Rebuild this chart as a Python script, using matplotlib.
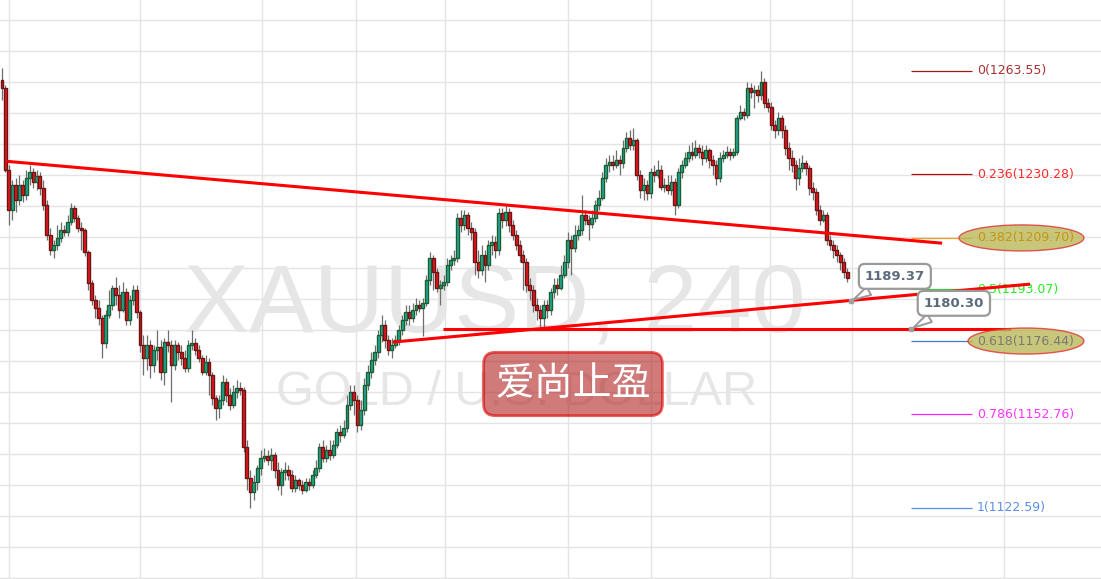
import numpy as np
import matplotlib.pyplot as plt
from matplotlib.patches import Ellipse

W, H = 1101, 579

# XAUUSD 4h candles
opens = [
    1260.6, 1258.1, 1231.6, 1218.7, 1226.8, 1221.9, 1226.8, 1223.5, 1229.0, 1231.0,
    1227.7, 1229.7, 1225.8, 1220.3, 1210.6, 1205.8, 1207.4, 1209.7, 1212.3, 1211.6,
    1214.8, 1219.4, 1216.1, 1212.9, 1212.3, 1205.2, 1195.2, 1189.7, 1187.1, 1183.9,
    1175.8, 1184.8, 1188.1, 1193.5, 1191.3, 1186.5, 1192.3, 1183.2, 1189.7, 1192.9,
    1185.8, 1175.2, 1171.0, 1175.2, 1168.7, 1173.5, 1174.5, 1166.5, 1176.1, 1175.2,
    1168.7, 1175.2, 1172.9, 1171.0, 1167.7, 1175.2, 1175.8, 1173.5, 1171.0, 1166.5,
    1169.7, 1165.5, 1158.1, 1154.8, 1157.4, 1163.2, 1159.0, 1155.8, 1160.0, 1161.3,
    1160.6, 1142.3, 1132.3, 1127.7, 1131.0, 1135.5, 1138.7, 1139.4, 1138.1, 1139.7,
    1134.8, 1130.0, 1134.2, 1134.8, 1133.2, 1129.0, 1131.6, 1130.0, 1128.4, 1131.0,
    1130.0, 1133.2, 1135.5, 1142.3, 1138.7, 1141.3, 1139.7, 1142.9, 1147.1, 1146.1,
    1148.4, 1155.8, 1160.0, 1157.4, 1149.4, 1154.2, 1162.3, 1166.5, 1170.3, 1172.9,
    1178.4, 1181.6, 1176.8, 1173.5, 1175.2, 1176.8, 1180.0, 1183.2, 1185.8, 1183.9,
    1186.5, 1188.1, 1187.1, 1188.7, 1196.1, 1203.2, 1198.7, 1193.5, 1194.5, 1195.5,
    1201.0, 1202.6, 1203.2, 1216.1, 1213.9, 1217.1, 1212.9, 1211.6, 1201.9, 1199.4,
    1204.2, 1201.0, 1207.4, 1208.4, 1205.8, 1217.7, 1215.5, 1218.1, 1213.9, 1210.6,
    1207.4, 1204.2, 1201.9, 1194.5, 1192.9, 1188.1, 1186.5, 1183.9, 1188.1, 1186.5,
    1192.3, 1194.5, 1193.5, 1197.7, 1201.9, 1209.0, 1206.5, 1210.6, 1212.3, 1217.1,
    1215.5, 1214.2, 1216.1, 1220.3, 1222.6, 1229.0, 1233.2, 1234.2, 1233.2, 1234.8,
    1233.9, 1238.7, 1241.9, 1239.7, 1241.3, 1230.0, 1225.2, 1226.8, 1224.2, 1231.0,
    1230.0, 1231.6, 1226.1, 1226.8, 1225.2, 1227.7, 1220.3, 1231.0, 1233.2, 1235.5,
    1237.4, 1236.5, 1238.7, 1237.4, 1235.5, 1238.1, 1234.8, 1233.2, 1229.0, 1235.5,
    1236.5, 1237.4, 1236.5, 1237.4, 1248.4, 1250.3, 1249.4, 1258.1, 1256.8, 1257.4,
    1255.8, 1260.0, 1253.2, 1251.9, 1246.1, 1244.5, 1248.4, 1244.5, 1238.7, 1235.5,
    1233.2, 1229.0, 1232.3, 1233.9, 1232.3, 1225.8, 1224.5, 1218.7, 1215.5, 1217.1,
    1209.0, 1207.4, 1205.8, 1204.2, 1201.9, 1198.7,
]
highs = [
    1264.5, 1259.0, 1233.2, 1228.4, 1229.0, 1230.0, 1228.4, 1231.6, 1233.2, 1232.3,
    1231.6, 1231.0, 1228.4, 1221.9, 1212.9, 1209.0, 1213.9, 1214.8, 1213.9, 1217.1,
    1221.0, 1220.3, 1217.1, 1214.8, 1212.9, 1205.8, 1196.1, 1191.3, 1189.7, 1184.8,
    1186.5, 1192.9, 1194.5, 1197.1, 1194.5, 1195.5, 1193.5, 1191.3, 1194.5, 1194.5,
    1186.5, 1178.4, 1178.4, 1176.8, 1175.2, 1180.0, 1176.8, 1177.4, 1180.0, 1176.8,
    1176.8, 1176.1, 1175.2, 1173.5, 1176.8, 1180.0, 1177.4, 1175.2, 1171.9, 1171.9,
    1171.0, 1166.5, 1159.0, 1159.0, 1165.5, 1164.5, 1161.3, 1162.3, 1163.9, 1163.2,
    1161.6, 1144.5, 1134.8, 1133.2, 1136.5, 1141.3, 1141.9, 1141.3, 1141.9, 1140.6,
    1137.4, 1135.5, 1137.4, 1136.5, 1134.8, 1133.2, 1132.3, 1131.6, 1132.3, 1132.3,
    1134.8, 1138.1, 1143.5, 1144.5, 1142.9, 1144.5, 1144.5, 1148.4, 1149.4, 1151.0,
    1159.0, 1162.3, 1162.3, 1159.0, 1157.4, 1164.5, 1168.7, 1172.9, 1175.2, 1180.0,
    1184.8, 1183.2, 1178.4, 1177.4, 1178.4, 1181.6, 1184.8, 1188.1, 1188.1, 1188.7,
    1190.3, 1189.7, 1190.3, 1197.7, 1205.2, 1204.2, 1200.0, 1196.1, 1197.7, 1203.2,
    1204.2, 1205.8, 1217.7, 1218.7, 1218.7, 1218.1, 1214.8, 1212.9, 1205.8, 1207.4,
    1205.8, 1209.0, 1210.6, 1210.3, 1219.4, 1219.4, 1220.0, 1219.4, 1215.5, 1212.3,
    1209.0, 1205.8, 1203.2, 1196.8, 1194.5, 1190.3, 1188.1, 1189.7, 1189.7, 1193.5,
    1196.8, 1196.8, 1201.0, 1204.2, 1211.6, 1210.6, 1213.9, 1213.9, 1223.5, 1218.7,
    1217.1, 1218.7, 1221.9, 1225.2, 1231.0, 1235.5, 1236.5, 1236.5, 1238.1, 1236.5,
    1241.3, 1243.9, 1244.5, 1245.2, 1241.9, 1231.6, 1229.0, 1228.4, 1232.3, 1233.2,
    1234.8, 1233.2, 1229.0, 1230.0, 1230.0, 1229.0, 1232.3, 1234.8, 1237.4, 1239.7,
    1240.6, 1241.3, 1240.0, 1239.7, 1239.7, 1238.7, 1236.5, 1234.8, 1237.4, 1238.1,
    1239.4, 1238.7, 1238.7, 1249.4, 1252.6, 1251.6, 1260.0, 1259.7, 1259.0, 1259.0,
    1263.55, 1261.3, 1254.8, 1253.5, 1247.7, 1250.3, 1249.4, 1246.1, 1240.6, 1238.1,
    1234.8, 1235.5, 1236.5, 1234.8, 1233.2, 1227.7, 1225.8, 1220.3, 1218.7, 1218.1,
    1210.6, 1209.0, 1207.4, 1205.2, 1203.2, 1200.0,
]
lows = [
    1254.2, 1231.0, 1213.9, 1215.5, 1218.1, 1220.3, 1221.3, 1221.9, 1226.8, 1225.8,
    1225.2, 1223.5, 1218.7, 1209.0, 1204.2, 1203.2, 1205.8, 1208.4, 1210.3, 1210.3,
    1213.9, 1214.8, 1211.6, 1205.8, 1203.9, 1192.9, 1188.1, 1183.9, 1181.6, 1171.0,
    1174.2, 1183.9, 1186.5, 1188.1, 1183.9, 1185.8, 1181.6, 1181.6, 1188.1, 1183.9,
    1172.9, 1165.5, 1167.1, 1164.5, 1166.5, 1170.3, 1163.9, 1162.3, 1172.9, 1156.8,
    1167.1, 1170.3, 1168.7, 1166.5, 1166.5, 1173.5, 1171.9, 1169.7, 1165.5, 1165.5,
    1159.0, 1155.8, 1151.0, 1151.6, 1155.8, 1156.8, 1154.2, 1154.8, 1158.1, 1159.0,
    1140.6, 1128.4, 1122.59, 1125.2, 1128.4, 1133.2, 1137.4, 1136.5, 1134.8, 1132.3,
    1128.4, 1126.8, 1131.6, 1131.6, 1127.7, 1127.7, 1128.4, 1127.1, 1127.7, 1128.4,
    1129.0, 1132.3, 1134.2, 1137.4, 1137.4, 1138.1, 1138.7, 1141.9, 1143.9, 1145.2,
    1147.1, 1154.2, 1152.6, 1147.1, 1147.7, 1152.6, 1160.6, 1164.5, 1168.7, 1171.0,
    1176.1, 1174.2, 1171.9, 1171.0, 1174.2, 1175.2, 1178.4, 1181.6, 1181.6, 1182.6,
    1184.8, 1185.8, 1178.1, 1187.7, 1194.5, 1192.9, 1192.3, 1188.1, 1192.9, 1194.2,
    1199.4, 1201.0, 1201.9, 1211.6, 1212.3, 1210.6, 1209.0, 1197.7, 1196.8, 1197.7,
    1195.5, 1199.4, 1204.2, 1203.2, 1204.2, 1212.9, 1213.5, 1211.6, 1209.0, 1205.8,
    1201.9, 1192.9, 1192.3, 1189.7, 1185.8, 1183.2, 1180.6, 1180.0, 1183.9, 1184.8,
    1190.3, 1191.3, 1192.9, 1196.8, 1200.0, 1197.7, 1205.2, 1209.0, 1210.6, 1213.9,
    1209.0, 1212.9, 1214.8, 1218.7, 1221.9, 1227.7, 1231.0, 1231.6, 1232.3, 1230.0,
    1232.3, 1237.4, 1238.1, 1238.1, 1228.4, 1222.6, 1221.9, 1221.9, 1222.6, 1227.7,
    1229.0, 1225.2, 1224.5, 1223.9, 1223.5, 1217.1, 1219.4, 1229.0, 1232.3, 1234.2,
    1234.8, 1235.5, 1235.5, 1233.2, 1234.2, 1232.3, 1230.0, 1226.8, 1227.7, 1234.2,
    1235.5, 1234.8, 1235.5, 1236.5, 1247.7, 1247.7, 1248.4, 1254.8, 1251.6, 1253.5,
    1254.2, 1251.6, 1250.3, 1244.5, 1241.9, 1242.9, 1241.9, 1236.5, 1231.6, 1231.0,
    1225.2, 1226.8, 1231.0, 1230.0, 1223.5, 1221.9, 1217.1, 1213.9, 1214.8, 1207.4,
    1205.8, 1203.2, 1201.9, 1199.4, 1196.8, 1195.5,
]
closes = [
    1258.1, 1231.6, 1218.7, 1226.8, 1221.9, 1226.8, 1223.5, 1229.0, 1231.0, 1227.7,
    1229.7, 1225.8, 1220.3, 1210.6, 1205.8, 1207.4, 1209.7, 1212.3, 1211.6, 1214.8,
    1219.4, 1216.1, 1212.9, 1212.3, 1205.2, 1195.2, 1189.7, 1187.1, 1183.9, 1175.8,
    1184.8, 1188.1, 1193.5, 1191.3, 1186.5, 1192.3, 1183.2, 1189.7, 1192.9, 1185.8,
    1175.2, 1171.0, 1175.2, 1168.7, 1173.5, 1174.5, 1166.5, 1176.1, 1175.2, 1168.7,
    1175.2, 1172.9, 1171.0, 1167.7, 1175.2, 1175.8, 1173.5, 1171.0, 1166.5, 1169.7,
    1165.5, 1158.1, 1154.8, 1157.4, 1163.2, 1159.0, 1155.8, 1160.0, 1161.3, 1160.6,
    1142.3, 1132.3, 1127.7, 1131.0, 1135.5, 1138.7, 1139.4, 1138.1, 1139.7, 1134.8,
    1130.0, 1134.2, 1134.8, 1133.2, 1129.0, 1131.6, 1130.0, 1128.4, 1131.0, 1130.0,
    1133.2, 1135.5, 1142.3, 1138.7, 1141.3, 1139.7, 1142.9, 1147.1, 1146.1, 1148.4,
    1155.8, 1160.0, 1157.4, 1149.4, 1154.2, 1162.3, 1166.5, 1170.3, 1172.9, 1178.4,
    1181.6, 1176.8, 1173.5, 1175.2, 1176.8, 1180.0, 1183.2, 1185.8, 1183.9, 1186.5,
    1188.1, 1187.1, 1188.7, 1196.1, 1203.2, 1198.7, 1193.5, 1194.5, 1195.5, 1201.0,
    1202.6, 1203.2, 1216.1, 1213.9, 1217.1, 1212.9, 1211.6, 1201.9, 1199.4, 1204.2,
    1201.0, 1207.4, 1208.4, 1205.8, 1217.7, 1215.5, 1218.1, 1213.9, 1210.6, 1207.4,
    1204.2, 1201.9, 1194.5, 1192.9, 1188.1, 1186.5, 1183.9, 1188.1, 1186.5, 1192.3,
    1194.5, 1193.5, 1197.7, 1201.9, 1209.0, 1206.5, 1210.6, 1212.3, 1217.1, 1215.5,
    1214.2, 1216.1, 1220.3, 1222.6, 1229.0, 1233.2, 1234.2, 1233.2, 1234.8, 1233.9,
    1238.7, 1241.9, 1239.7, 1241.3, 1230.0, 1225.2, 1226.8, 1224.2, 1231.0, 1230.0,
    1231.6, 1226.1, 1226.8, 1225.2, 1227.7, 1220.3, 1231.0, 1233.2, 1235.5, 1237.4,
    1236.5, 1238.7, 1237.4, 1235.5, 1238.1, 1234.8, 1233.2, 1229.0, 1235.5, 1236.5,
    1237.4, 1236.5, 1237.4, 1248.4, 1250.3, 1249.4, 1258.1, 1256.8, 1257.4, 1255.8,
    1260.0, 1253.2, 1251.9, 1246.1, 1244.5, 1248.4, 1244.5, 1238.7, 1235.5, 1233.2,
    1229.0, 1232.3, 1233.9, 1232.3, 1225.8, 1224.5, 1218.7, 1215.5, 1217.1, 1209.0,
    1207.4, 1205.8, 1204.2, 1201.9, 1198.7, 1196.8,
]

# fibonacci retracement
fib_ratios = ["0", "0.236", "0.382", "0.5", "0.618", "0.786", "1"]
fib_prices = [1263.55, 1230.28, 1209.70, 1193.07, 1176.44, 1152.76, 1122.59]
fib_line_colors = ["#a01818", "#b01010", "#f0a020", "#33cc33", "#4a78c8", "#ff22ff", "#5a8fe6"]
fib_text_colors = ["#a83030", "#ff2a2a", "#c89410", "#22ee22", "#7a7a70", "#ff33ff", "#5a8fe6"]
highlighted = ["0.382", "0.618"]

# drawn trend lines: (candle index, price)
resistance = [(1.5, 1234.4), (272.5, 1208.0)]
support = [(113.3, 1176.1), (298.0, 1194.8)]
flat = [(127.8, 1180.30), (292.5, 1180.30)]

callout_labels = ["1189.37", "1180.30"]
callout_x = [246.1, 263.5]
callout_box = [(258.8, 1197.3), (275.9, 1188.6)]

# time grid (candle index of day separators)
grid_x = [2, 40, 75.5, 102.5, 128.5, 164, 188, 222.5, 246.5, 290.5]

UP_FILL, UP_EDGE = "#1ea89c", "#1d5e30"
DN_FILL, DN_EDGE = "#e8161b", "#6a1414"

o = np.array(opens)
c = np.array(closes)
hi = np.array(highs)
lo = np.array(lows)
x = np.arange(len(c))
up = c >= o

fig = plt.figure(figsize=(W / 100, H / 100), dpi=100)
ax = fig.add_axes([0, 0, 1, 1])
ax.set_xlim(-0.58, 318.55)
ax.set_ylim(1099.68, 1286.45)
for s in ax.spines.values():
    s.set_visible(False)
ax.set_xticks(grid_x)
ax.set_yticks(np.arange(1100, 1290, 10))
ax.tick_params(length=0, labelbottom=False, labelleft=False)
ax.grid(True, color="#e4e4e4", lw=1.0)
ax.set_axisbelow(True)

# watermark
ax.text(495 / W, 1 - 332 / H, "XAUUSD, 240", transform=ax.transAxes,
        ha="center", va="baseline", fontsize=70, family="Liberation Sans",
        color="#e6e6e6", zorder=0.6)
ax.text(517 / W, 1 - 405 / H, "GOLD / U.S. DOLLAR", transform=ax.transAxes,
        ha="center", va="baseline", fontsize=35, family="Liberation Sans",
        color="#e6e6e6", zorder=0.6)

# candles
ax.vlines(x, lo, hi, color="#6e6e6e", lw=0.9, zorder=2)
body = np.maximum(np.abs(c - o), 0.25)
ax.bar(x, body, bottom=np.minimum(o, c), width=0.86,
       color=[UP_FILL if u else DN_FILL for u in up],
       edgecolor=[UP_EDGE if u else DN_EDGE for u in up],
       linewidth=1.0, zorder=3)

# trend lines
for line in (resistance, support, flat):
    xs, ys = zip(*line)
    ax.plot(xs, ys, color="#ff0000", lw=2.2, zorder=5, solid_capstyle="butt")

# fib levels
ax.hlines(fib_prices, 263.5, 281.2, colors=fib_line_colors, lw=0.9, zorder=4)
for r, p, col in zip(fib_ratios, fib_prices, fib_text_colors):
    z = 7 if r in highlighted else 4.9
    ax.text(282.6, p, f"{r}({p:.2f})", va="center", ha="left", fontsize=9,
            color=col, zorder=z)

ax.add_patch(Ellipse((295.5, fib_prices[2]), 36.2, 8.4, fc="#bab859",
                     ec="#e03030", lw=1.0, alpha=0.8, zorder=6))
ax.add_patch(Ellipse((296.8, fib_prices[4]), 33.6, 8.4, fc="#bab859",
                     ec="#e03030", lw=1.0, alpha=0.8, zorder=6))

# price callouts
for lab, cx, (bx, by) in zip(callout_labels, callout_x, callout_box):
    py = float(lab)
    ax.annotate(lab, xy=(cx, py), xytext=(bx, by), textcoords="data",
                ha="center", va="center", fontsize=9.5, fontweight="bold",
                color="#5b6b7b", zorder=8,
                bbox=dict(boxstyle="round,pad=0.45", fc="white", ec="#9a9a9a", lw=1.6),
                arrowprops=dict(arrowstyle="wedge,tail_width=0.7,shrink_factor=0.5",
                                fc="white", ec="#9a9a9a", lw=1.4))
    ax.plot(cx, py, "s", ms=3, color="#a0a0a0", zorder=8.5)

# label box
ax.text(573 / W, 1 - 384 / H, "爱尚止盈", transform=ax.transAxes,
        ha="center", va="center", fontsize=28, color="white",
        family=["Noto Sans CJK SC", "DejaVu Sans"], zorder=9,
        bbox=dict(boxstyle="round,pad=0.3,rounding_size=0.3", fc="#b42828",
                  ec="#e00000", lw=2, alpha=0.62))

fig.savefig("out.png", dpi=100, facecolor="white")
